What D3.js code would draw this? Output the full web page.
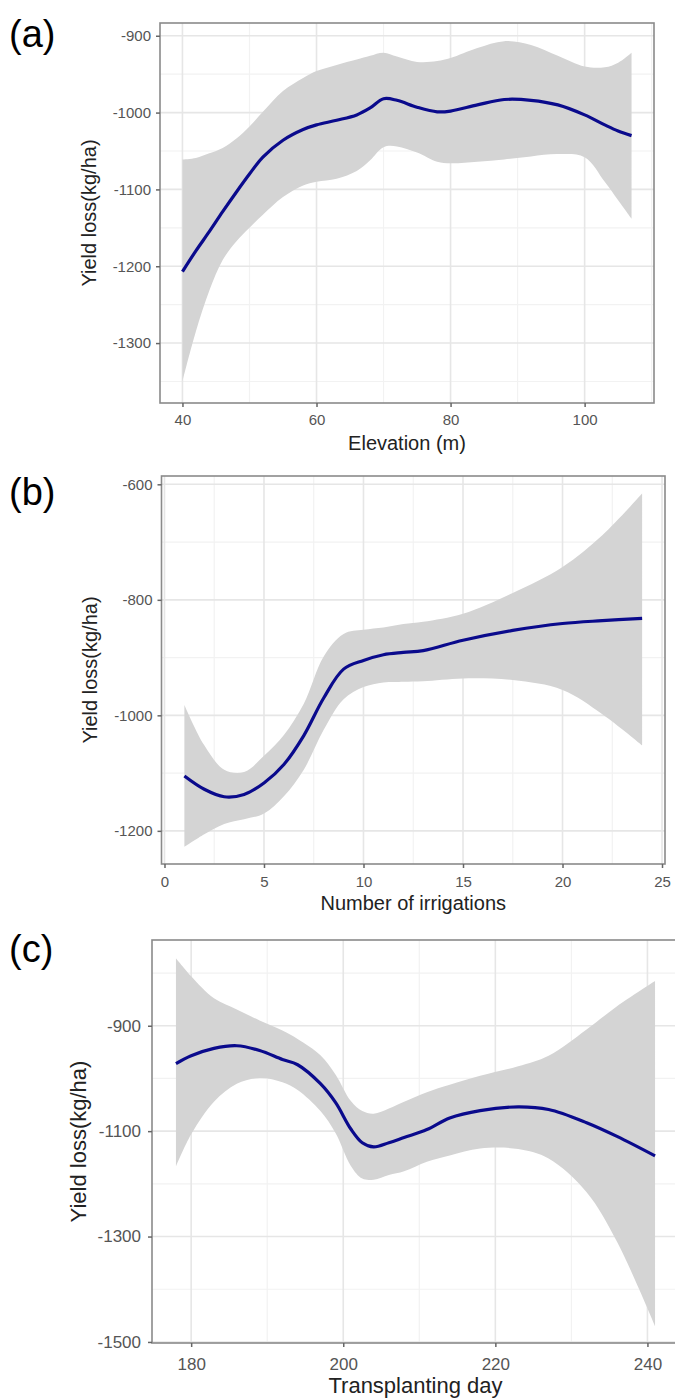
<!DOCTYPE html>
<html>
<head>
<meta charset="utf-8">
<script src="https://cdn.jsdelivr.net/npm/d3@7"></script>
<style>
  body { margin: 0; background: #fff; }
  svg { display: block; }
  text { font-family: "Liberation Sans", Arial, sans-serif; }
</style>
</head>
<body>
<svg id="chart" width="675" height="1400"></svg>
<script>
// (a) elevation
var elevX   = [40, 42, 44, 46, 48, 50, 52, 55, 58, 60, 63, 66, 68, 70, 72, 75, 78, 80, 84, 88, 92, 96, 100, 103, 105, 107];
var elevFit = [-1207, -1180, -1155, -1129, -1104, -1080, -1058, -1036, -1022, -1016, -1010, -1003, -994, -982, -984, -993, -999, -998, -990, -983, -984, -990, -1003, -1016, -1024, -1030];
var elevHi  = [-1061, -1059, -1053, -1046, -1034, -1018, -999, -972, -955, -946, -938, -931, -926, -922, -927, -934, -933, -929, -916, -907, -912, -926, -940, -941, -935, -922];
var elevLo  = [-1350, -1285, -1232, -1192, -1168, -1150, -1133, -1110, -1095, -1090, -1086, -1076, -1062, -1045, -1044, -1052, -1064, -1066, -1064, -1061, -1057, -1054, -1058, -1090, -1114, -1138];
var elevXTicks = [40, 60, 80, 100];
var elevYTicks = [-900, -1000, -1100, -1200, -1300];

// (b) irrigations
var irrX   = [1, 2, 3, 4, 5, 6, 7, 8, 9, 10, 11, 12, 13, 15, 17.5, 20, 22, 24];
var irrFit = [-1105, -1128, -1141, -1137, -1117, -1085, -1035, -970, -920, -905, -895, -891, -888, -870, -853, -841, -836, -832];
var irrHi  = [-982, -1052, -1094, -1098, -1070, -1034, -980, -898, -859, -852, -848, -842, -838, -824, -788, -743, -688, -616];
var irrLo  = [-1228, -1206, -1188, -1180, -1170, -1140, -1094, -1025, -972, -951, -943, -942, -941, -936, -939, -956, -998, -1052];
var irrXTicks = [0, 5, 10, 15, 20, 25];
var irrYTicks = [-600, -800, -1000, -1200];

// (c) transplanting day
var dayX   = [178, 180, 183, 186, 189, 192, 194, 197, 199, 201, 202.5, 204, 206, 208, 211, 214, 218, 223, 227, 232, 236, 241];
var dayFit = [-972, -957, -943, -938, -947, -964, -974, -1010, -1046, -1096, -1122, -1130, -1122, -1112, -1097, -1075, -1061, -1054, -1059, -1084, -1110, -1147];
var dayHi  = [-772, -806, -848, -869, -890, -909, -925, -956, -993, -1043, -1062, -1067, -1057, -1044, -1026, -1012, -995, -977, -957, -907, -863, -815];
var dayLo  = [-1167, -1106, -1044, -1010, -999, -1007, -1022, -1062, -1104, -1166, -1190, -1192, -1183, -1176, -1158, -1146, -1133, -1134, -1152, -1216, -1310, -1470];
var dayXTicks = [180, 200, 220, 240];
var dayYTicks = [-900, -1100, -1300, -1500];

var svg = d3.select('#chart');

function minorOf(ticks, dom) {
    var step = Math.abs(ticks[1] - ticks[0]);
    var lo = Math.min(dom[0], dom[1]), hi = Math.max(dom[0], dom[1]);
    var start = Math.min.apply(null, ticks) - step / 2;
    return d3.range(start, hi + step, step).filter(function(v) {
        return v > lo && v < hi;
    });
}

function drawPanel(p) {
    var g = svg.append('g');
    var x = d3.scaleLinear().domain(p.xDom).range([p.left, p.right]);
    var y = d3.scaleLinear().domain(p.yDom).range([p.bottom, p.top]);
    var curve = d3.curveCatmullRom.alpha(0.5);

    // background grid
    minorOf(p.xTicks, p.xDom).forEach(function(v) {
        g.append('line').attr('x1', x(v)).attr('x2', x(v)).attr('y1', p.top).attr('y2', p.bottom)
            .attr('stroke', '#f2f2f2').attr('stroke-width', 1.2);
    });
    minorOf(p.yTicks, p.yDom).forEach(function(v) {
        g.append('line').attr('y1', y(v)).attr('y2', y(v)).attr('x1', p.left).attr('x2', p.right)
            .attr('stroke', '#f2f2f2').attr('stroke-width', 1.2);
    });
    p.xTicks.forEach(function(v) {
        g.append('line').attr('x1', x(v)).attr('x2', x(v)).attr('y1', p.top).attr('y2', p.bottom)
            .attr('stroke', '#e6e6e6').attr('stroke-width', 1.6);
    });
    p.yTicks.forEach(function(v) {
        g.append('line').attr('y1', y(v)).attr('y2', y(v)).attr('x1', p.left).attr('x2', p.right)
            .attr('stroke', '#e6e6e6').attr('stroke-width', 1.6);
    });

    var pts = p.xs.map(function(d, i) {
        return { x: d, fit: p.fit[i], lo: p.lo[i], hi: p.hi[i] };
    });

    // confidence ribbon
    g.append('path')
        .datum(pts)
        .attr('d', d3.area()
            .curve(curve)
            .x(function(d) { return x(d.x); })
            .y0(function(d) { return y(d.lo); })
            .y1(function(d) { return y(d.hi); }))
        .attr('fill', '#d4d4d4');

    // smooth line
    g.append('path')
        .datum(pts)
        .attr('d', d3.line()
            .curve(curve)
            .x(function(d) { return x(d.x); })
            .y(function(d) { return y(d.fit); }))
        .attr('fill', 'none')
        .attr('stroke', '#0a0a8c')
        .attr('stroke-width', 3.2);

    // panel border
    g.append('rect')
        .attr('x', p.left).attr('y', p.top)
        .attr('width', p.right - p.left).attr('height', p.bottom - p.top)
        .attr('fill', 'none').attr('stroke', '#8a8a8a').attr('stroke-width', 1.6);

    // axes
    var xa = g.append('g').attr('transform', 'translate(0,' + p.bottom + ')')
        .call(d3.axisBottom(x).tickValues(p.xTicks).tickSize(4).tickPadding(5));
    var ya = g.append('g').attr('transform', 'translate(' + p.left + ',0)')
        .call(d3.axisLeft(y).tickValues(p.yTicks).tickSize(4).tickPadding(p.yPad)
            .tickFormat(d3.format('d')));
    [xa, ya].forEach(function(a) {
        a.select('.domain').remove();
        a.selectAll('line').attr('stroke', '#666').attr('stroke-width', 1.5);
        a.selectAll('text').attr('fill', '#555').style('font-size', p.tickSize + 'px');
    });
    xa.selectAll('text').attr('dy', null).attr('y', p.xTickY);
    ya.selectAll('text').text(function(d) { return '-' + Math.abs(d); });

    // titles
    g.append('text')
        .attr('x', (p.left + Math.min(p.right, 675)) / 2 + p.xTitleShift)
        .attr('y', p.xTitleY)
        .attr('text-anchor', 'middle')
        .attr('fill', '#222')
        .style('font-size', p.titleSize + 'px')
        .text(p.xTitle);
    g.append('text')
        .attr('transform', 'translate(' + p.yTitleX + ',' + (p.top + p.bottom) / 2 + ') rotate(-90)')
        .attr('text-anchor', 'middle')
        .attr('fill', '#222')
        .style('font-size', p.titleSize + 'px')
        .text('Yield loss(kg/ha)');
    g.append('text')
        .attr('x', 9)
        .attr('y', p.labelY)
        .attr('fill', '#000')
        .style('font-size', '38px')
        .text(p.label);
}

drawPanel({
    left: 160, right: 654, top: 23, bottom: 403,
    xDom: [36.65, 110.35], yDom: [-1378, -883.4],
    xTicks: elevXTicks, yTicks: elevYTicks,
    xs: elevX, fit: elevFit, lo: elevLo, hi: elevHi,
    tickSize: 15, titleSize: 20, yPad: 5, xTickY: 22,
    xTitle: 'Elevation (m)', xTitleY: 450, xTitleShift: 0, yTitleX: 96,
    label: '(a)', labelY: 47
});

drawPanel({
    left: 161.5, right: 665, top: 476, bottom: 864,
    xDom: [-0.15, 25.15], yDom: [-1257.4, -585.6],
    xTicks: irrXTicks, yTicks: irrYTicks,
    xs: irrX, fit: irrFit, lo: irrLo, hi: irrHi,
    tickSize: 15, titleSize: 20, yPad: 5, xTickY: 23,
    xTitle: 'Number of irrigations', xTitleY: 910, xTitleShift: 0, yTitleX: 97,
    label: '(b)', labelY: 505
});

drawPanel({
    left: 152, right: 679, top: 940, bottom: 1343,
    xDom: [174.85, 244.15], yDom: [-1502, -737.3],
    xTicks: dayXTicks, yTicks: dayYTicks,
    xs: dayX, fit: dayFit, lo: dayLo, hi: dayHi,
    tickSize: 17, titleSize: 22, yPad: 7, xTickY: 27,
    xTitle: 'Transplanting day', xTitleY: 1393, xTitleShift: 2, yTitleX: 86,
    label: '(c)', labelY: 962
});
</script>
</body>
</html>
